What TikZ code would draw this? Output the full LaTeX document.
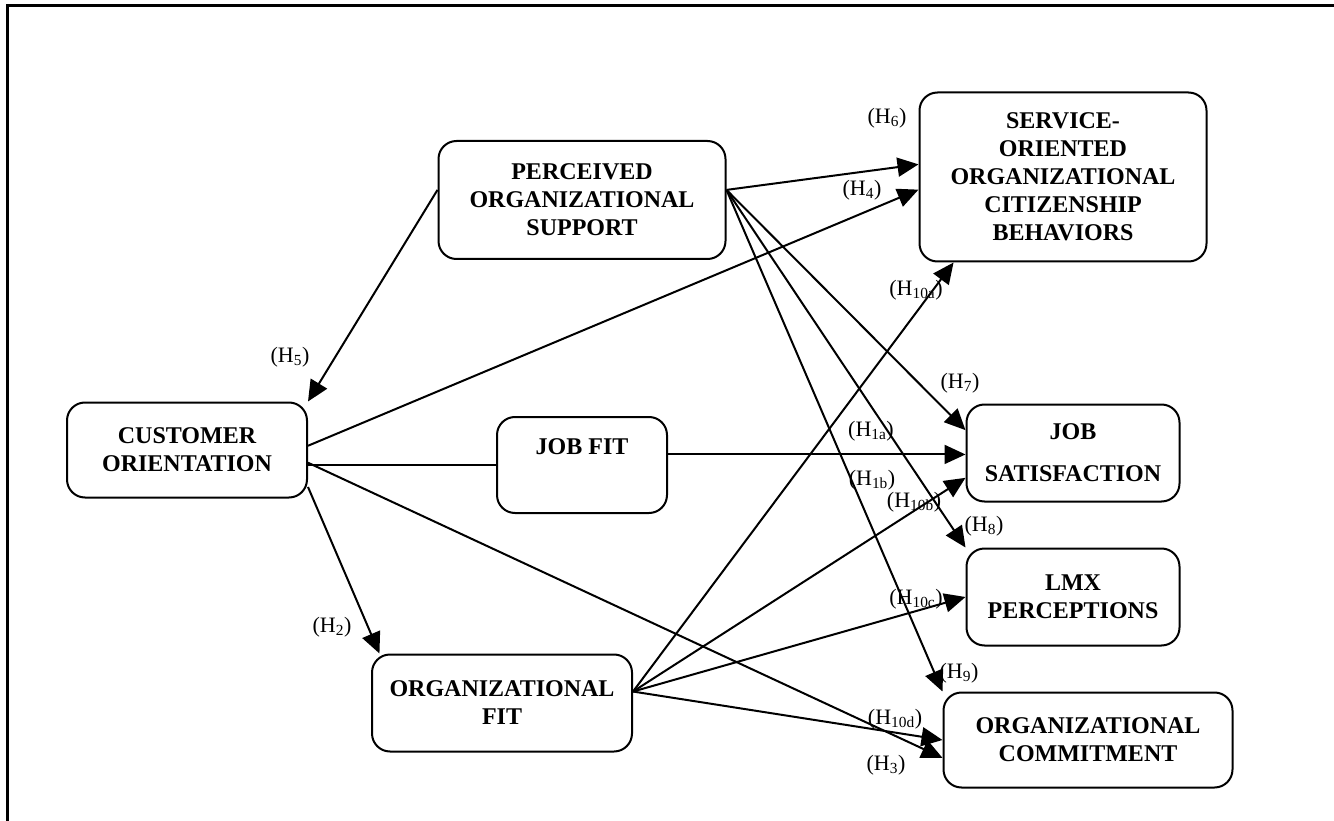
\documentclass[tikz,border=0pt]{standalone}
\usepackage{fontspec}
\setmainfont{Liberation Serif}
\usetikzlibrary{arrows.meta}
\tikzset{
	conceptnode/.style={
			shape=rectangle,
			rounded corners=18pt,
			draw=black,
			line width=2pt,
			fill=white,
			align=center,
			inner sep=0pt,
			font=\fontsize{24}{28}\selectfont\bfseries
		},
	hypnode/.style={
			inner sep=0pt,
			font=\fontsize{22}{26}\selectfont
		}
}
\tikzset{
	patharrow/.style={line width=2pt, -{Triangle[length=21pt,width=19pt]}},
	plainline/.style={line width=2pt}
}

\begin{document}
\begin{tikzpicture}[x=1pt, y=-1pt]

				\useasboundingbox (0,0) rectangle (1334,821);
				\draw[line width=3pt] (7,821) -- (7,6) -- (1334,6);

				\node[conceptnode, minimum width=287pt, minimum height=118pt] (pos) at (582,200) {PERCEIVED\\ORGANIZATIONAL\\SUPPORT};
				\node[conceptnode, minimum width=287pt, minimum height=169pt] (socb) at (1063,177) {SERVICE-\\ORIENTED\\ORGANIZATIONAL\\CITIZENSHIP\\BEHAVIORS};
				\node[conceptnode, minimum width=240pt, minimum height=95pt] (co) at (187,450) {CUSTOMER\\ORIENTATION};
				\node[conceptnode, minimum width=170pt, minimum height=96pt] (jobfit) at (582,465) {JOB FIT\\[8pt]~};
				\node[conceptnode, minimum width=213pt, minimum height=97pt] (js) at (1073,453) {JOB\\[14pt]SATISFACTION};
				\node[conceptnode, minimum width=213pt, minimum height=97pt] (lmx) at (1073,597) {LMX\\PERCEPTIONS};
				\node[conceptnode, minimum width=289pt, minimum height=95pt] (oc) at (1088,740) {ORGANIZATIONAL\\COMMITMENT};
				\node[conceptnode, minimum width=260pt, minimum height=97pt] (of) at (502,703) {ORGANIZATIONAL\\FIT};

				\draw[patharrow] (pos.176) -- (co.north east);
				\draw[patharrow] (pos.4) -- (socb.175);
				\draw[patharrow] (co.2) -- (socb.185);
				\draw[plainline] (jobfit.west -| co.east) -- (jobfit.west);
				\draw[patharrow] (jobfit.7) -- (jobfit.7 -| js.west);
				\draw[patharrow] (pos.4) -- (js.168);
				\draw[patharrow] (pos.4) -- (lmx.north west);
				\draw[patharrow] (pos.4) -- (oc.north west);
				\draw[patharrow] (of.5) -- (socb.218);
				\draw[patharrow] (of.5) -- (js.193);
				\draw[patharrow] (of.5) -- (lmx.west);
				\draw[patharrow] (of.5) -- (oc.west);
				\draw[patharrow] (co.354) -- (oc.187);
				\draw[patharrow] (co.343) -- (of.158);

				\node[hypnode] (h5) at (290,357) {(H\textsubscript{5})};
				\node[hypnode] (h6) at (887,118) {(H\textsubscript{6})};
				\node[hypnode] (h4) at (862,190) {(H\textsubscript{4})};
				\node[hypnode] (h10a) at (916,290) {(H\textsubscript{10a})};
				\node[hypnode] (h7) at (960,383) {(H\textsubscript{7})};
				\node[hypnode] (h1a) at (871,431) {(H\textsubscript{1a})};
				\node[hypnode] (h1b) at (872,480) {(H\textsubscript{1b})};
				\node[hypnode] (h10b) at (914,502) {(H\textsubscript{10b})};
				\node[hypnode] (h8) at (984,526) {(H\textsubscript{8})};
				\node[hypnode] (h10c) at (916,599) {(H\textsubscript{10c})};
				\node[hypnode] (h9) at (959,673) {(H\textsubscript{9})};
				\node[hypnode] (h10d) at (895,719) {(H\textsubscript{10d})};
				\node[hypnode] (h3) at (886,765) {(H\textsubscript{3})};
				\node[hypnode] (h2) at (332,627) {(H\textsubscript{2})};

			\end{tikzpicture}
\end{document}
